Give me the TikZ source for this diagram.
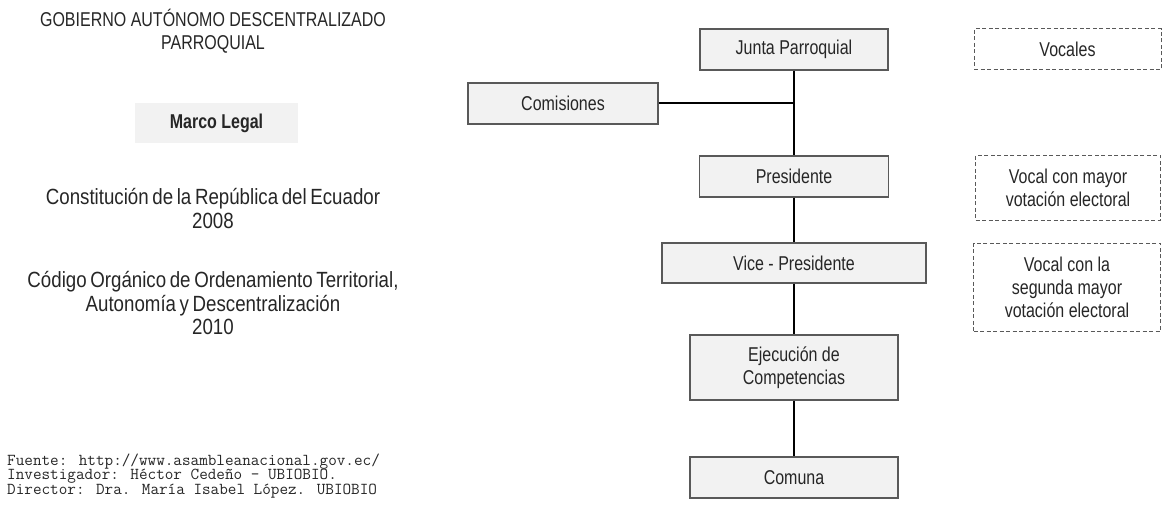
\documentclass[tikz,border=0pt]{standalone}
\usepackage{fontspec}
\setmainfont{Liberation Sans}[FakeStretch=0.8]
\newfontfamily\legalfont{Liberation Sans}[FakeStretch=0.85,WordSpace=0.7]
\usetikzlibrary{calc}

\definecolor{boxfill}{HTML}{F2F2F2}
\definecolor{boxline}{HTML}{595959}
\definecolor{txtcol}{HTML}{262626}

\begin{document}
\begin{tikzpicture}[x=1pt,y=-1pt,
    txt/.style={text=txtcol,align=center,inner sep=0pt,font=\fontsize{20}{23}\selectfont},
    legal/.style={txt,font=\legalfont\fontsize{22}{23.5}\selectfont},
    orgbox/.style={txt,draw=boxline,line width=1.4pt,fill=boxfill,minimum height=41pt},
    vocalbox/.style={txt,draw=boxline,line width=1pt,dash pattern=on 4pt off 2.5pt},
    link/.style={line width=2pt,black}]

      \useasboundingbox (0,0) rectangle (1163,510);

      % left column
      \node[txt] (titulo) at (213,31) {GOBIERNO AUTÓNOMO DESCENTRALIZADO\\PARROQUIAL};
      \node[txt,fill=boxfill,minimum width=163pt,minimum height=40pt,font=\fontsize{20}{23}\selectfont\bfseries] (marco) at (216.5,123) {Marco Legal};
      \node[legal] (constitucion) at (213,208.5) {Constitución de la República del Ecuador\\2008};
      \node[legal] (codigo) at (213,303.5) {Código Orgánico de Ordenamiento Territorial,\\Autonomía y Descentralización\\2010};
      \node[anchor=west,align=left,inner sep=0pt,text=txtcol,font=\ttfamily\fontsize{16.7}{14.5}\selectfont] (fuente) at (7,476)
        {Fuente: http://www.asambleanacional.gov.ec/\\Investigador: Héctor Cedeño \textendash{} UBIOBIO.\\Director: Dra. María Isabel López. UBIOBIO};

      % organigrama
      \node[orgbox,minimum width=188pt] (junta) at (794,49.5) {Junta Parroquial};
      \node[orgbox,minimum width=190pt] (comis) at (563,103.5) {Comisiones};
      \node[orgbox,minimum width=189pt] (pres) at (794,176.5) {Presidente};
      \node[orgbox,minimum width=264pt,minimum height=40pt] (vice) at (794,263) {Vice - Presidente};
      \node[orgbox,minimum width=208pt,minimum height=65pt] (ejec) at (794,367.5) {Ejecución de\\Competencias};
      \node[orgbox,minimum width=208pt] (comuna) at (794,477.5) {Comuna};

      \draw[link] (junta) -- (pres);
      \draw[link] (comis) -- (comis -| junta);
      \draw[link] (pres) -- (vice);
      \draw[link] (vice) -- (ejec);
      \draw[link] (ejec) -- (comuna);

      % vocales
      \node[vocalbox,minimum width=187pt,minimum height=41pt] (vocales) at (1067.5,49.5) {Vocales};
      \node[vocalbox,minimum width=185pt,minimum height=65pt] (vocal1) at (1068,188) {Vocal con mayor\\votación electoral};
      \node[vocalbox,minimum width=187pt,minimum height=88pt] (vocal2) at (1067,287.5) {Vocal con la\\segunda mayor\\votación electoral};

\end{tikzpicture}
\end{document}
